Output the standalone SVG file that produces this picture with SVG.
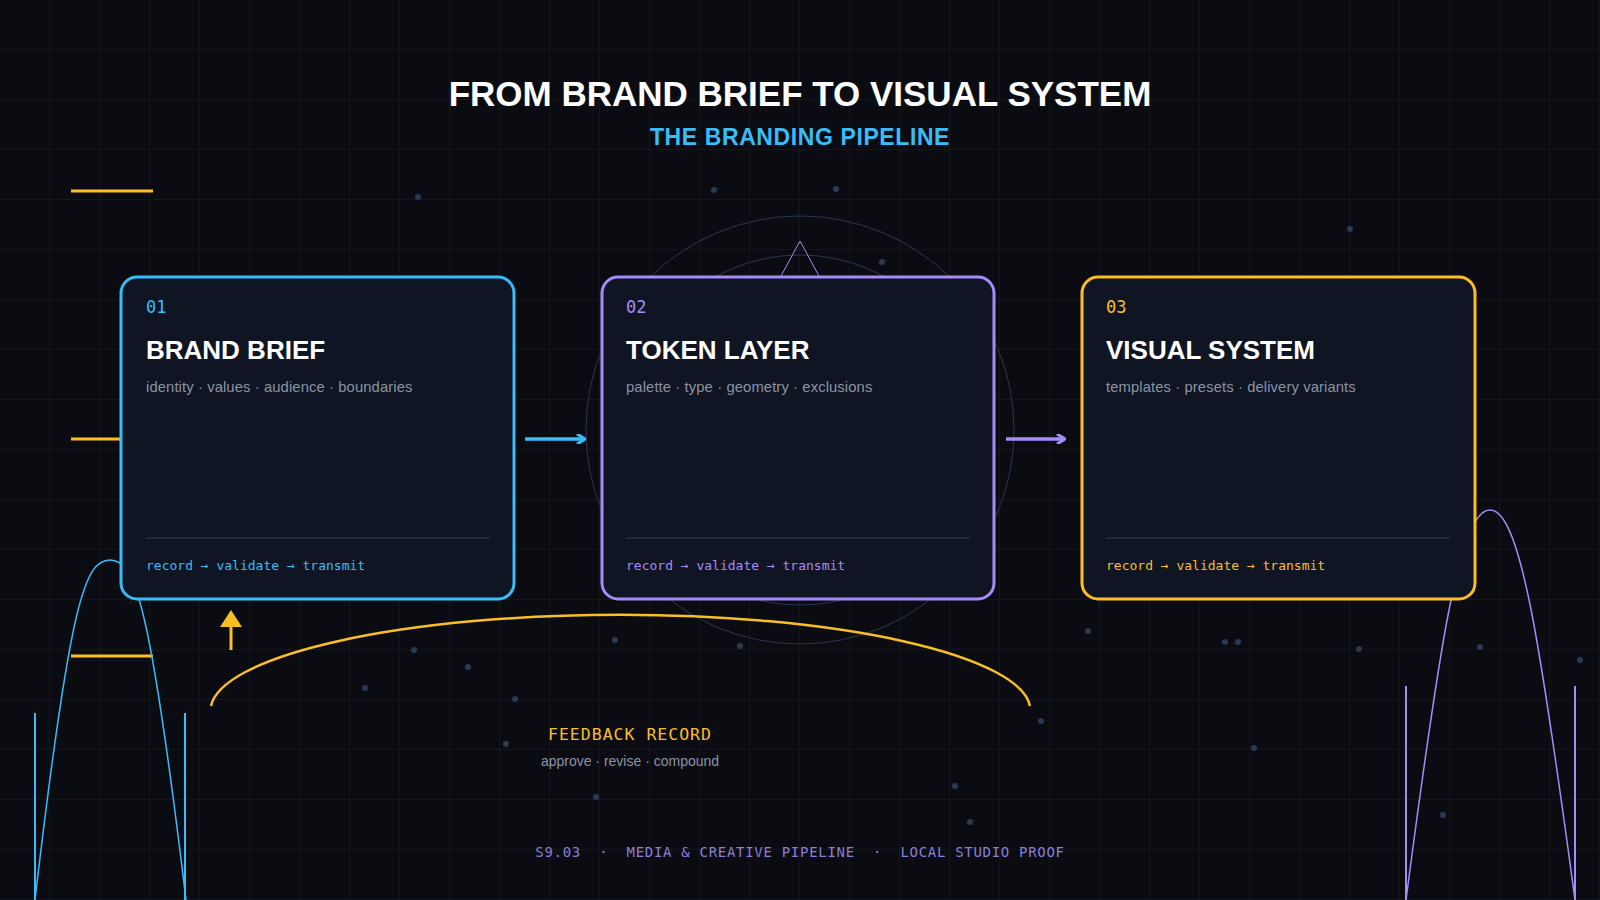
<svg xmlns="http://www.w3.org/2000/svg" width="1600" height="900" viewBox="0 0 1600 900">
<defs>
<pattern id="grid" width="50" height="50" patternUnits="userSpaceOnUse"><path d="M50 0V50H0" fill="none" stroke="#1a1f2c" stroke-width="1"/></pattern>
<marker id="ab" markerWidth="10" markerHeight="10" refX="8" refY="5" orient="auto" markerUnits="userSpaceOnUse"><path d="M1 0L9 5L1 10" fill="none" stroke="#38bdf8" stroke-width="3"/></marker>
<marker id="ap" markerWidth="10" markerHeight="10" refX="8" refY="5" orient="auto" markerUnits="userSpaceOnUse"><path d="M1 0L9 5L1 10" fill="none" stroke="#a78bfa" stroke-width="3"/></marker>
</defs>
<style>
.card{fill:#0f1522;stroke-width:3}
.num{font-family:"DejaVu Sans Mono",monospace;font-size:17px}
.ttl{font-family:"Liberation Sans",Arial,sans-serif;font-weight:bold;font-size:26px;fill:#fff}
.sub{font-family:"Liberation Sans",Arial,sans-serif;font-size:14.8px;fill:#8a94a6;letter-spacing:0.1px}
.foot{font-family:"DejaVu Sans Mono",monospace;font-size:13px}
.div{stroke:#2c3245;stroke-width:1.5}
.dot{fill:#2a3a55}
</style>
<rect width="1600" height="900" fill="#0a0c12"/>
<rect width="1600" height="900" fill="url(#grid)"/>
<g fill="none" stroke="#2a3550" stroke-width="1">
<circle cx="800" cy="430" r="214"/>
<circle cx="800" cy="430" r="175"/>
<path d="M800 241L781 276M800 241L819 276" stroke="#a78bfa"/>
</g>
<g class="dot">
<circle cx="418" cy="197" r="3"/><circle cx="714" cy="190" r="3"/><circle cx="836" cy="189" r="3"/><circle cx="1350" cy="229" r="3"/><circle cx="882" cy="262" r="3"/>
<circle cx="414" cy="650" r="3"/><circle cx="468" cy="667" r="3"/><circle cx="365" cy="688" r="3"/><circle cx="515" cy="699" r="3"/><circle cx="506" cy="744" r="3"/><circle cx="615" cy="640" r="3"/><circle cx="740" cy="646" r="3"/><circle cx="1088" cy="631" r="3"/><circle cx="1225" cy="642" r="3"/><circle cx="1238" cy="642" r="3"/><circle cx="1359" cy="649" r="3"/><circle cx="1480" cy="647" r="3"/><circle cx="1580" cy="660" r="3"/><circle cx="1041" cy="721" r="3"/><circle cx="1254" cy="748" r="3"/><circle cx="955" cy="786" r="3"/><circle cx="596" cy="797" r="3"/><circle cx="970" cy="822" r="3"/><circle cx="1443" cy="815" r="3"/>
</g>
<text x="800" y="106" text-anchor="middle" font-family="Liberation Sans,Arial,sans-serif" font-weight="bold" font-size="35" fill="#fff">FROM BRAND BRIEF TO VISUAL SYSTEM</text>
<text x="800" y="145" text-anchor="middle" font-family="Liberation Sans,Arial,sans-serif" font-weight="bold" font-size="23" letter-spacing="0.6" fill="#38bdf8">THE BRANDING PIPELINE</text>
<g stroke="#fbbf24" stroke-width="3">
<path d="M71 191H153M71 439H120M71 656H153"/>
</g>
<path d="M35 900C70 600 85 560 110 560S150 600 186 900" fill="none" stroke="#38bdf8" stroke-width="1.5"/>
<path d="M35 713V900M185 713V900" stroke="#38bdf8" stroke-width="2"/>
<path d="M1406 900C1440 640 1460 510 1490 510S1540 640 1575 900" fill="none" stroke="#a78bfa" stroke-width="1.5"/>
<path d="M1406 686V900M1575 686V900" stroke="#a78bfa" stroke-width="2"/>
<g id="connectors">
<path d="M525 439H584" stroke="#38bdf8" stroke-width="3.5" marker-end="url(#ab)"/>
<path d="M1006 439H1064" stroke="#a78bfa" stroke-width="3.5" marker-end="url(#ap)"/>
<path d="M211 706A410 96 0 0 1 1030 706" fill="none" stroke="#fbbf24" stroke-width="2.5"/>
<path d="M231 650V620" stroke="#fbbf24" stroke-width="3"/>
<path d="M231 610L220 627H242Z" fill="#fbbf24"/>
</g>
<g id="n1">
<rect class="card" x="121" y="277" width="393" height="322" rx="16" stroke="#38bdf8"/>
<text class="num" x="146" y="313" fill="#38bdf8">01</text>
<text class="ttl" x="146" y="359">BRAND BRIEF</text>
<text class="sub" x="146" y="392">identity · values · audience · boundaries</text>
<path class="div" d="M146 538H490"/>
<text class="foot" x="146" y="570" fill="#38bdf8">record → validate → transmit</text>
</g>
<g id="n2">
<rect class="card" x="602" y="277" width="392" height="322" rx="16" stroke="#a78bfa"/>
<text class="num" x="626" y="313" fill="#a78bfa">02</text>
<text class="ttl" x="626" y="359">TOKEN LAYER</text>
<text class="sub" x="626" y="392">palette · type · geometry · exclusions</text>
<path class="div" d="M626 538H970"/>
<text class="foot" x="626" y="570" fill="#a78bfa">record → validate → transmit</text>
</g>
<g id="n3">
<rect class="card" x="1082" y="277" width="393" height="322" rx="16" stroke="#fbbf24"/>
<text class="num" x="1106" y="313" fill="#fbbf24">03</text>
<text class="ttl" x="1106" y="359">VISUAL SYSTEM</text>
<text class="sub" x="1106" y="392">templates · presets · delivery variants</text>
<path class="div" d="M1106 538H1450"/>
<text class="foot" x="1106" y="570" fill="#fbbf24">record → validate → transmit</text>
</g>
<text x="630" y="740" text-anchor="middle" font-family="DejaVu Sans Mono,monospace" font-size="16.5" letter-spacing="1" fill="#fbbf24">FEEDBACK RECORD</text>
<text x="630" y="766" text-anchor="middle" font-family="Liberation Sans,Arial,sans-serif" font-size="14" fill="#8a94a6">approve · revise · compound</text>
<text x="800" y="857" text-anchor="middle" font-family="DejaVu Sans Mono,monospace" font-size="14" letter-spacing="0.7" fill="#8b7fd8" xml:space="preserve">S9.03  ·  MEDIA &amp; CREATIVE PIPELINE  ·  LOCAL STUDIO PROOF</text>
</svg>
